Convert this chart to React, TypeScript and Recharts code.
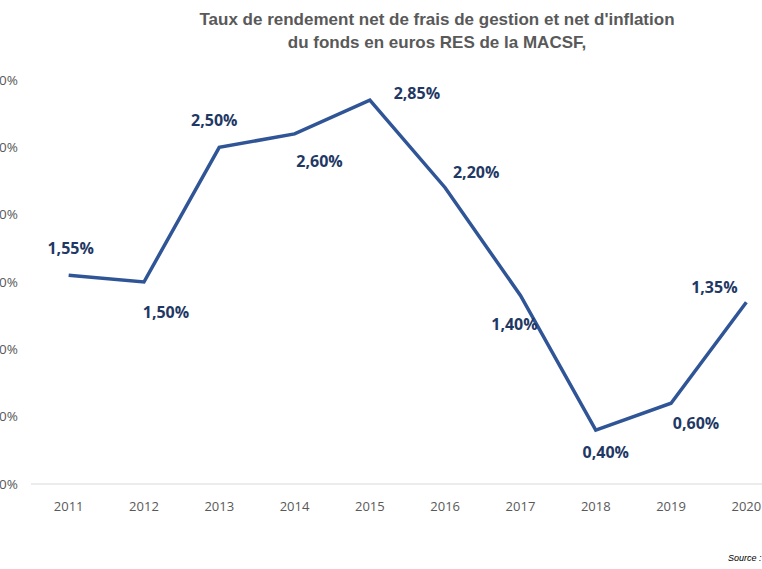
import { LineChart, Line, XAxis, YAxis, LabelList } from "recharts";

const years = ["2011", "2012", "2013", "2014", "2015", "2016", "2017", "2018", "2019", "2020"];
const rates = [1.55, 1.5, 2.5, 2.6, 2.85, 2.2, 1.4, 0.4, 0.6, 1.35];
const yTicks = [0, 0.5, 1, 1.5, 2, 2.5, 3];
// label offsets per point (dx, dy) around the marker
const labelDx = [2, 22, -5, 25, 47, 31, -6, 10, 25, -32];
const labelDy = [-27, 30, -27, 27, -7, -16, 29, 22, 20, -15];

const data = years.map((y, i) => ({ year: y, rate: rates[i] }));
const fmt = (v: number) => v.toFixed(2).replace(".", ",") + "%";

const DataLabel = (props: any) => {
  const { x, y, index, value } = props;
  return (
    <text
      x={x + labelDx[index]}
      y={y + labelDy[index]}
      textAnchor="middle"
      dominantBaseline="central"
      fill="#1F3864"
      fontSize={16}
      fontWeight="bold"
      fontFamily="'Open Sans', sans-serif"
    >
      {fmt(value)}
    </text>
  );
};

export default function App() {
  return (
    <div style={{ position: "absolute", top: 0, left: 0, width: 762, height: 569, overflow: "hidden", background: "#fff" }}>
      <div
        style={{
          position: "absolute", top: 8, left: 137, width: 600, textAlign: "center",
          fontFamily: "'Liberation Sans', Arial, sans-serif", fontWeight: "bold", fontSize: 17,
          color: "#595959", lineHeight: "23px",
        }}
      >
        Taux de rendement net de frais de gestion et net d'inflation
        <br />
        du fonds en euros RES de la MACSF,
      </div>
      <div style={{ position: "absolute", left: -60, top: 0 }}>
        <LineChart width={860} height={569} data={data} margin={{ top: 80, right: 16, bottom: 55, left: 0 }}>
          <XAxis
            dataKey="year"
            scale="band"
            tickLine={false}
            axisLine={{ stroke: "#d9d9d9" }}
            tick={{ fill: "#595959", fontSize: 13, fontFamily: "'Open Sans', sans-serif" }}
            tickMargin={12}
            height={30}
          />
          <YAxis
            domain={[0, 3]}
            ticks={yTicks}
            width={91}
            axisLine={false}
            tickLine={false}
            tickMargin={7}
            tickFormatter={fmt}
            tick={{ fill: "#595959", fontSize: 13.5, fontFamily: "'Open Sans', sans-serif" }}
          />
          <Line
            dataKey="rate"
            stroke="#2F5597"
            strokeWidth={3.5}
            dot={false}
            isAnimationActive={false}
          >
            <LabelList dataKey="rate" content={<DataLabel />} />
          </Line>
        </LineChart>
      </div>
      <div
        style={{
          position: "absolute", left: 728, top: 553, fontSize: 9, fontStyle: "italic",
          fontFamily: "'Liberation Sans', Arial, sans-serif", color: "#000", whiteSpace: "nowrap",
        }}
      >
        Source :
      </div>
    </div>
  );
}
